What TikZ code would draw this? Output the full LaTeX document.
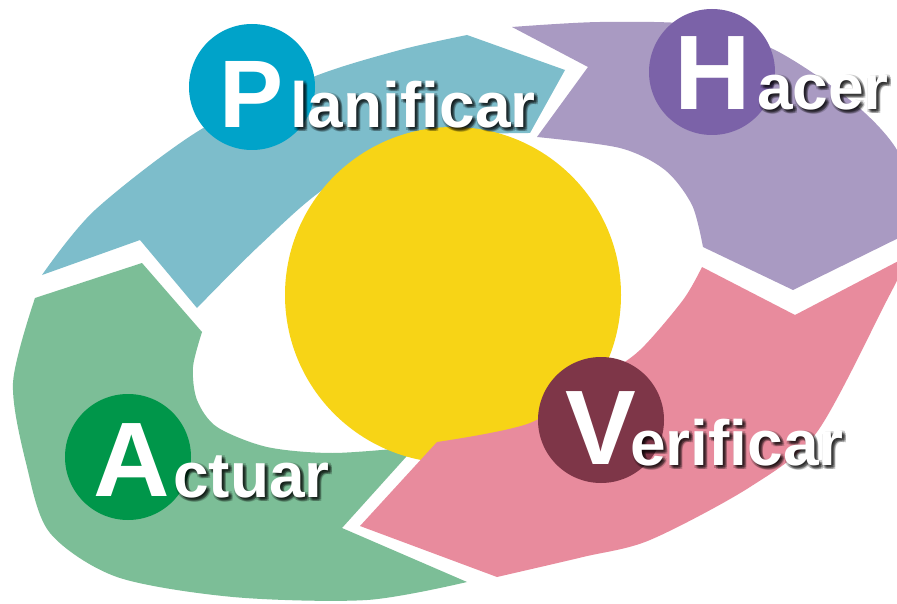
\documentclass[tikz,border=0pt]{standalone}
\usepackage{fontspec}
\setmainfont{Liberation Sans}
\usepackage{tikz}
\usetikzlibrary{positioning}
\definecolor{planB}{HTML}{7DBDCB}
\definecolor{hacerB}{HTML}{A99AC2}
\definecolor{verifB}{HTML}{E88B9D}
\definecolor{actuB}{HTML}{7CBE97}
\definecolor{planC}{HTML}{00A3C9}
\definecolor{hacerC}{HTML}{7B62A8}
\definecolor{verifC}{HTML}{7E3648}
\definecolor{actuC}{HTML}{00964A}
\definecolor{sol}{HTML}{F7D416}

\begin{document}
\begin{tikzpicture}[x=1pt, y=-1pt,
    badge/.style={circle, minimum size=126pt, inner sep=0pt, outer sep=0pt},
    capletter/.style={text=white, font=\bfseries\fontsize{106}{106}\selectfont, inner sep=0pt, anchor=base},
    word/.style={text=white, font=\bfseries\fontsize{64}{64}\selectfont, inner sep=0pt, anchor=base west},
    shade/.style={word, text=black, opacity=0.2}]
        \useasboundingbox (0,0) rectangle (897,604);
        \clip (0,0) rectangle (897,604);
        \fill[white] (0,0) rectangle (897,604);
        \fill[planB] plot[smooth] coordinates {(42,275) (95,210) (200,130) (313,77) (400,50) (467,35)} -- (565,70) -- plot[smooth] coordinates {(530,133) (430,140) (330,185) (260,245) (197,308)} -- (140,240) -- cycle;
        \fill[hacerB] (588,67) -- plot[smooth] coordinates {(512,27) (600,22) (700,25) (775,50) (850,100) (897,150) (925,225)} -- (793,290) -- plot[smooth] coordinates {(703,247) (692,205) (665,170) (620,148) (537,137)} -- cycle;
        \fill[actuB] (142,263) -- plot[smooth] coordinates {(202,332) (193,367) (197,400) (217,427) (267,447) (333,453) (415,447)} -- (342,528) -- plot[smooth] coordinates {(467,582) (367,600) (233,597) (117,577) (50,533) (27,467) (13,383) (35,298)} -- cycle;
        \fill[sol] (453,295) circle (168);
        \fill[verifB] (795,315) -- plot[smooth] coordinates {(910,255) (887,300) (817,432) (750,487) (650,540) (583,557) (497,577)} -- (360,526) -- plot[smooth] coordinates {(437,442) (530,423) (600,378) (640,350) (683,300) (702,267)} -- cycle;
        \node[badge, fill=planC] (bP) at (252,87) {};
        \node[badge, fill=hacerC] (bH) at (712,72) {};
        \node[badge, fill=actuC] (bA) at (128,457) {};
        \node[badge, fill=verifC] (bV) at (601,420) {};
        \node[capletter, font=\bfseries\fontsize{96}{96}\selectfont] (cP) at (252,128) {P};
        \node[capletter] (cH) at (713,110) {H};
        \node[capletter] (cA) at (132,496) {A};
        \node[capletter] (cV) at (601,464) {V};
        \coordinate (wP) at (290,128);
        \coordinate (wH) at (757,110);
        \coordinate (wA) at (173,497);
        \coordinate (wV) at (630,465);
        \foreach \dx/\dy in {1/1,2/2,3/3,4/4,2/4,4/2,0/3,3/0} {
            \node[shade] (sP\dx\dy) at ([shift={(\dx,\dy)}]wP) {lanificar};
            \node[shade] (sH\dx\dy) at ([shift={(\dx,\dy)}]wH) {acer};
            \node[shade] (sA\dx\dy) at ([shift={(\dx,\dy)}]wA) {ctuar};
            \node[shade] (sV\dx\dy) at ([shift={(\dx,\dy)}]wV) {erificar};
        }
        \node[word] (tP) at (wP) {lanificar};
        \node[word] (tH) at (wH) {acer};
        \node[word] (tA) at (wA) {ctuar};
        \node[word] (tV) at (wV) {erificar};
\end{tikzpicture}
\end{document}
